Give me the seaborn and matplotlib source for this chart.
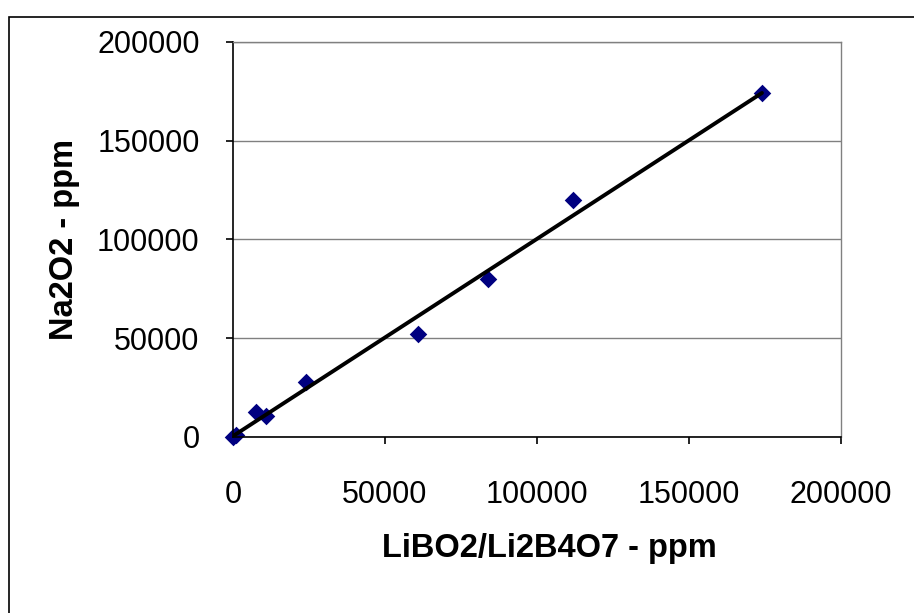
import numpy as np
import pandas as pd
import matplotlib
matplotlib.use("Agg")
import matplotlib.pyplot as plt
import seaborn as sns
from matplotlib.patches import Rectangle

# values
libo2_ppm = [0, 1000, 7500, 11000, 24000, 61000, 84000, 112000, 174000]
na2o2_ppm = [0, 1000, 12500, 10500, 28000, 52000, 80000, 120000, 174000]
ticks = [0, 50000, 100000, 150000, 200000]

df = pd.DataFrame({"x": libo2_ppm, "y": na2o2_ppm})

sns.set_style("white")
plt.rcParams['font.family'] = ['Liberation Sans', 'DejaVu Sans']
plt.rcParams['text.color'] = 'black'
plt.rcParams['axes.labelcolor'] = 'black'
plt.rcParams['xtick.color'] = 'black'
plt.rcParams['ytick.color'] = 'black'

fig = plt.figure(figsize=(9.14, 6.13), dpi=100)
ax = fig.add_axes([233 / 914, 1 - 437 / 613, 608 / 914, 395 / 613])

# outer chart border, only left and top edges fall inside the image
fig.patches.append(Rectangle((9 / 914, -0.1), 1.2, (613 - 17) / 613 + 0.1,
                             transform=fig.transFigure, fill=False,
                             edgecolor="black", linewidth=1.2))

sns.regplot(data=df, x="x", y="y", ax=ax, ci=None, marker="D",
            scatter_kws={"s": 80, "color": "#000080", "linewidths": 0,
                         "alpha": 1, "zorder": 2, "clip_on": False},
            line_kws={"color": "black", "linewidth": 2.8, "zorder": 3})

ax.set_xlim(0, 200000)
ax.set_ylim(0, 200000)
ax.set_xticks(ticks)
ax.set_yticks(ticks)
ax.set_xticklabels([str(t) for t in ticks])
ax.set_yticklabels([str(t) for t in ticks])
ax.yaxis.grid(True, color="#808080", linewidth=1)
ax.set_axisbelow(True)

for s in ["left", "bottom"]:
    ax.spines[s].set_color("black")
    ax.spines[s].set_linewidth(1.2)
for s in ["top", "right"]:
    ax.spines[s].set_color("#808080")
    ax.spines[s].set_linewidth(1)

ax.tick_params(axis="both", direction="out", length=5, width=1.2,
               color="black", labelcolor="black", labelsize=22,
               bottom=True, left=True)
ax.tick_params(axis="x", pad=26)
ax.tick_params(axis="y", pad=19)

ax.set_xlabel("LiBO2/Li2B4O7 - ppm", fontsize=23.5, fontweight="bold")
ax.set_ylabel("Na2O2 - ppm", fontsize=23.5, fontweight="bold")
ax.xaxis.set_label_coords(0.52, -0.243)
ax.yaxis.set_label_coords(-0.252, 0.5)

fig.savefig("out.png", dpi=100)
